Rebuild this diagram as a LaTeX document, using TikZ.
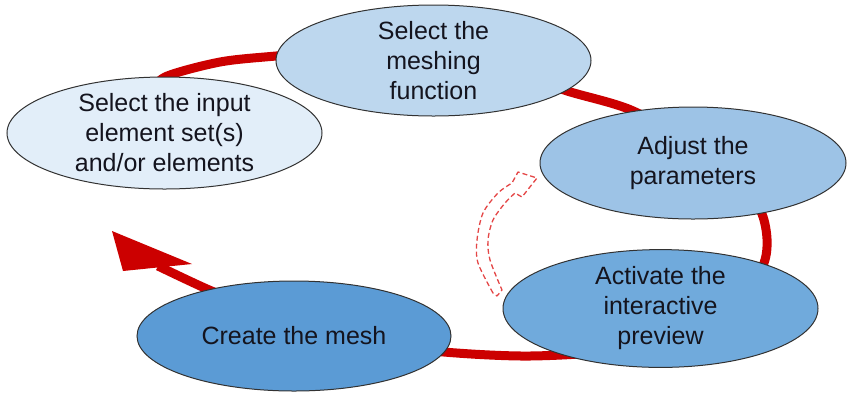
\documentclass[tikz,border=0pt]{standalone}
\usepackage{fontspec}
\setmainfont{Liberation Sans}
\usetikzlibrary{shapes.geometric}
\definecolor{ringred}{RGB}{204,0,0}
\definecolor{dashred}{RGB}{228,70,70}
\definecolor{edgegray}{RGB}{50,50,50}
\definecolor{txt}{RGB}{20,20,30}
\definecolor{fillA}{RGB}{226,238,249}
\definecolor{fillB}{RGB}{189,215,238}
\definecolor{fillC}{RGB}{157,195,230}
\definecolor{fillD}{RGB}{112,170,220}
\definecolor{fillE}{RGB}{91,155,213}
\begin{document}
\begin{tikzpicture}[x=1pt,y=-1pt,
  stage/.style={ellipse, draw=edgegray, line width=1pt, inner sep=0pt, align=center,
    font=\fontsize{25}{30}\selectfont, text=txt},
  ring/.style={draw=ringred, line width=9pt},
  ringhead/.style={fill=ringred},
  hollowarrow/.style={draw=dashred, line width=1.3pt, dash pattern=on 5pt off 3pt, line join=round}]
\useasboundingbox (0,0) rectangle (848,392);
% cycle ring (behind the stages)
\draw[ring] plot[smooth] coordinates {(150,95) (165,77) (220,62) (276,56) (350,50) (430,52) (500,66) (564,90) (631,110) (700,148) (745,185) (762,214) (767,239) (764,263) (745,300) (700,330) (620,350) (530,356) (444,352) (370,342) (300,322) (250,306) (207,289) (158,266)};
\coordinate (headtip) at (112,231);
\fill[ringhead] (headtip) -- (123,271) -- (192,264) -- cycle;
% stages
\node[stage, fill=fillA, minimum width=315pt, minimum height=112pt] (input) at (164.5,133) {Select the input\\element set(s)\\and/or elements};
\node[stage, fill=fillB, minimum width=315pt, minimum height=111pt] (meshfn) at (433.5,60.5) {Select the\\meshing\\function};
\node[stage, fill=fillC, minimum width=306pt, minimum height=112pt] (adjust) at (693,163) {Adjust the\\parameters};
\node[stage, fill=fillD, minimum width=315pt, minimum height=111pt] (preview) at (660.5,308.5) {Activate the\\interactive\\preview};
\node[stage, fill=fillE, minimum width=314pt, minimum height=110pt] (create) at (294,336) {Create the mesh};
% dashed hollow arrow from preview back to adjust
\draw[hollowarrow] plot[smooth] coordinates {(493,293) (478,263) (477,240) (483,213) (498,193) (512,183)}
  -- (518,172) -- (537,178) -- (522,197)
  -- plot[smooth] coordinates {(515,193) (505,203) (493,220) (488,240) (490,260) (502,290)}
  -- (497,296) -- cycle;
\end{tikzpicture}
\end{document}
